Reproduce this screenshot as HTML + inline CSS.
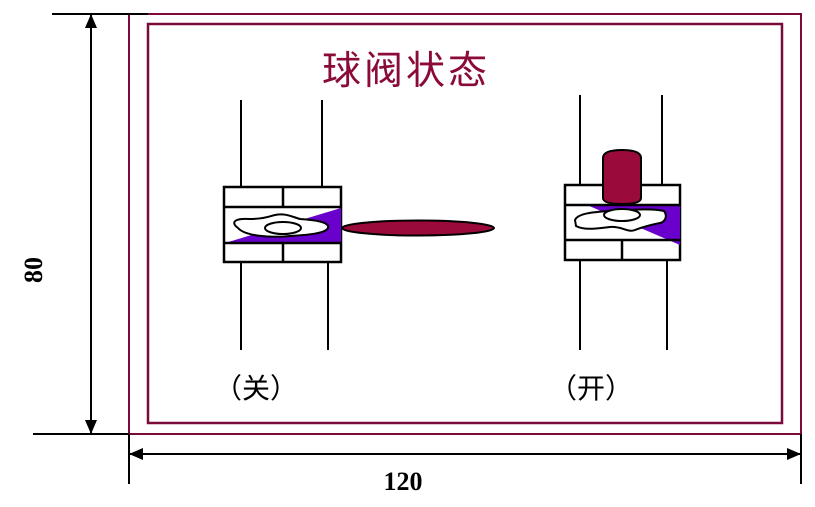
<!DOCTYPE html>
<html><head><meta charset="utf-8"><style>
html,body{margin:0;padding:0;background:#fff;width:815px;height:507px;overflow:hidden}
</style></head><body>
<svg width="815" height="507" viewBox="0 0 815 507" xmlns="http://www.w3.org/2000/svg">
<defs>
<marker id="a" markerWidth="14" markerHeight="12" refX="13" refY="6" orient="auto" markerUnits="userSpaceOnUse"><path d="M0,0 L14,6 L0,12 Z" fill="#000"/></marker>
</defs>
<rect x="129" y="14" width="672" height="420" fill="none" stroke="#7a0a3a" stroke-width="2"/>
<rect x="148" y="24" width="634" height="399" fill="none" stroke="#7a0a3a" stroke-width="2.5"/>
<line x1="52" y1="14" x2="148" y2="14" stroke="#000" stroke-width="2"/>
<line x1="33" y1="434" x2="129" y2="434" stroke="#000" stroke-width="2"/>
<line x1="91" y1="224" x2="91" y2="15" stroke="#000" stroke-width="2" marker-end="url(#a)"/>
<line x1="91" y1="224" x2="91" y2="433" stroke="#000" stroke-width="2" marker-end="url(#a)"/>
<line x1="129" y1="434" x2="129" y2="484" stroke="#000" stroke-width="2"/>
<line x1="801" y1="434" x2="801" y2="484" stroke="#000" stroke-width="2"/>
<line x1="465" y1="454" x2="130" y2="454" stroke="#000" stroke-width="2" marker-end="url(#a)"/>
<line x1="465" y1="454" x2="800" y2="454" stroke="#000" stroke-width="2" marker-end="url(#a)"/>
<text x="36" y="270" font-family="Liberation Serif, serif" font-weight="bold" font-size="26" text-anchor="middle" transform="rotate(-90 36 270)" dominant-baseline="middle">80</text>
<text x="403" y="490" font-family="Liberation Serif, serif" font-weight="bold" font-size="26" text-anchor="middle">120</text>
<text x="406" y="84" font-family="Liberation Sans, Noto Sans CJK SC, sans-serif" font-size="39" fill="#8a0a3a" text-anchor="middle" letter-spacing="3">球阀状态</text>
<g stroke="#000" stroke-width="2" fill="none">
<line x1="241" y1="100" x2="241" y2="187"/><line x1="322" y1="100" x2="322" y2="187"/>
<line x1="241" y1="262" x2="241" y2="350"/><line x1="328" y1="262" x2="328" y2="350"/>
</g>
<rect x="224" y="187" width="117" height="75" fill="#fff" stroke="#000" stroke-width="2.5"/>
<polygon points="225,243 341,208 341,243" fill="#6a00cc"/>
<g stroke="#000" stroke-width="2.5" fill="none">
<line x1="224" y1="207" x2="341" y2="207"/><line x1="224" y1="243" x2="341" y2="243"/>
<line x1="283" y1="187" x2="283" y2="207"/><line x1="283" y1="243" x2="283" y2="262"/>
</g>
<path d="M238,228 C230,222 235,218 250,219 C265,219 270,216 275,215 C285,213 290,216 300,219 C315,220 330,222 328,228 C325,234 305,235 290,236 C270,238 245,236 238,228 Z" fill="#fff" stroke="#000" stroke-width="2"/>
<ellipse cx="283" cy="228" rx="18" ry="6" fill="#fff" stroke="#000" stroke-width="2"/>
<ellipse cx="418" cy="228" rx="76" ry="7.5" fill="#9a0a3a" stroke="#000" stroke-width="2"/>
<g stroke="#000" stroke-width="2" fill="none">
<line x1="580" y1="95" x2="580" y2="185"/><line x1="662" y1="95" x2="662" y2="185"/>
<line x1="580" y1="260" x2="580" y2="350"/><line x1="667" y1="260" x2="667" y2="350"/>
</g>
<rect x="565" y="185" width="115" height="75" fill="#fff" stroke="#000" stroke-width="2.5"/>
<polygon points="587,205 680,205 680,245" fill="#6a00cc"/>
<g stroke="#000" stroke-width="2.5" fill="none">
<line x1="565" y1="205" x2="680" y2="205"/><line x1="565" y1="240" x2="680" y2="240"/>
<line x1="622" y1="240" x2="622" y2="260"/>
</g>
<path d="M575,220 C578,213 595,212 610,211 C630,210 650,208 664,211 C668,216 665,222 660,223 C650,225 640,228 635,230 C628,233 622,226 610,227 C600,228 585,231 576,226 Z" fill="#fff" stroke="#000" stroke-width="2"/>
<ellipse cx="622" cy="215" rx="18" ry="6" fill="#fff" stroke="#000" stroke-width="2"/>
<path d="M603,158 Q603,150 622,150 Q641,150 641,158 L641,198 Q641,204 622,204 Q603,204 603,198 Z" fill="#9a0a3a" stroke="#000" stroke-width="2"/>
<text x="256" y="398" font-family="Liberation Sans, Noto Sans CJK SC, sans-serif" font-size="28" text-anchor="middle">（关）</text>
<text x="591" y="398" font-family="Liberation Sans, Noto Sans CJK SC, sans-serif" font-size="28" text-anchor="middle">（开）</text>
</svg>
</body></html>
